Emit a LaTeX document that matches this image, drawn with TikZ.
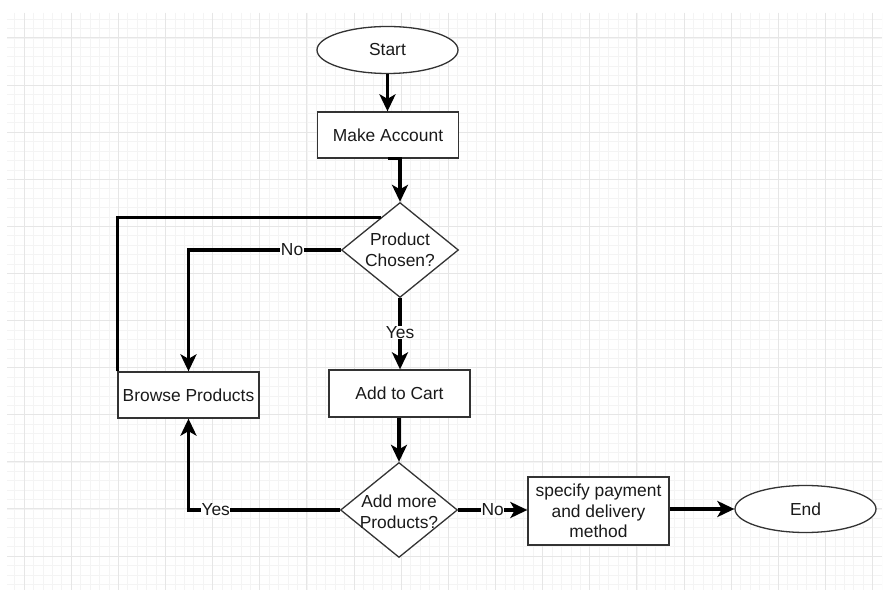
\documentclass[tikz,border=0pt]{standalone}
\usepackage{fontspec}
\setmainfont{Liberation Sans}
\usetikzlibrary{shapes.geometric,arrows.meta,calc}
\definecolor{gridmajor}{HTML}{E6E6E6}
\definecolor{gridminor}{HTML}{F4F4F4}
\definecolor{outline}{HTML}{333333}
\definecolor{txt}{HTML}{1A1A1A}
\begin{document}
\begin{tikzpicture}[x=1pt,y=-1pt,
  lbl/.style={text=txt,font=\fontsize{17.4}{20.5}\selectfont,align=center},
  box/.style={lbl,draw=outline,line width=1.3pt,fill=white,rectangle,minimum width=141pt,minimum height=46pt,inner sep=1pt},
  term/.style={lbl,draw=outline,line width=1.3pt,fill=white,ellipse,minimum width=141pt,minimum height=47pt,inner sep=0pt},
  dia/.style={draw=outline,line width=1.3pt,fill=white,diamond,aspect=1.24,minimum width=117pt,minimum height=95pt,inner sep=0pt},
  conn/.style={line width=3.4pt,black,line cap=butt,line join=miter},
  arr/.style={conn,-{Stealth[length=17pt,width=16pt,inset=4.5pt]}},
  edgelbl/.style={lbl,fill=white,inner sep=0.5pt}]
\useasboundingbox (0,0) rectangle (887,593);
\fill[white] (0,0) rectangle (887,593);
% background grid
\begin{scope}
  \clip (7,13) rectangle (882,590);
  \foreach \i in {-3,...,94} {
    \draw[gridminor,line width=0.7pt] ({24+9.43*\i},13) -- ({24+9.43*\i},590);
  }
  \foreach \j in {-3,...,60} {
    \draw[gridminor,line width=0.7pt] (7,{38+9.42*\j}) -- (882,{38+9.42*\j});
  }
  \foreach \i in {-1,...,19} {
    \draw[gridmajor,line width=1pt] ({24+47.15*\i},13) -- ({24+47.15*\i},590);
  }
  \foreach \j in {-1,...,12} {
    \draw[gridmajor,line width=1pt] (7,{38+47.1*\j}) -- (882,{38+47.1*\j});
  }
\end{scope}
% nodes
\node[term] (start) at (387.5,50) {Start};
\node[box] (acct) at (388,135) {Make Account};
\node[dia,label={[lbl]center:Product\\Chosen?}] (chosen) at (400,250) {};
\node[box] (browse) at (188.5,395) {Browse Products};
\node[box,minimum height=47pt] (cart) at (399.5,393.5) {Add to Cart};
\node[dia,label={[lbl,yshift=-2pt]center:Add more\\Products?}] (more) at (399,510) {};
\node[box,minimum height=68pt,inner sep=1pt] (spec) at (598.5,511) {specify payment\\and delivery\\method};
\node[term] (end) at (805.5,509) {End};
% connectors
\draw[arr] (start) -- (acct.north -| start.south);
\draw[arr] (acct.south) -- (acct.south -| chosen.north) -- (chosen.north);
\coordinate (loopend) at ($(chosen.west)!0.68!(chosen.north)$);
\draw[conn] (browse.north west) |- (loopend);
\draw[arr] (chosen.west) -| node[edgelbl,pos=0.16] {No} (browse.north);
\draw[arr] (chosen.south) -- node[edgelbl,yshift=1pt] {Yes} (cart.north -| chosen.south);
\draw[arr] (cart.south -| more.north) -- (more.north);
\draw[arr] (more.west) -| node[edgelbl,pos=0.41] {Yes} (browse.south);
\draw[arr] (more.east) -- node[edgelbl] {No} (spec.west |- more.east);
\draw[arr] (spec.east |- end.west) -- (end.west);
\end{tikzpicture}
\end{document}
